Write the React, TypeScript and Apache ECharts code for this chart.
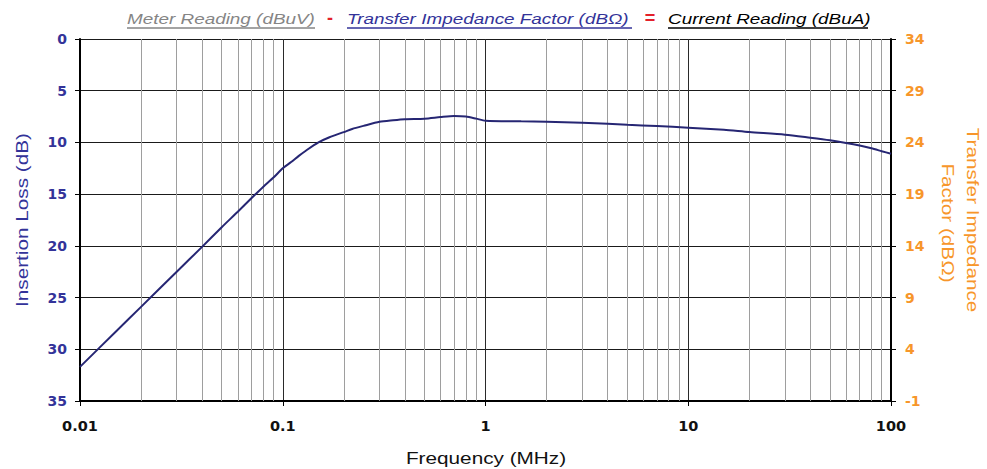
import React, { useEffect, useRef } from "react";
import * as echarts from "echarts";

// Frequency (MHz) and insertion loss (dB)
const FREQ = [
  0.01, 0.015, 0.02, 0.03, 0.04, 0.05, 0.06, 0.07, 0.08, 0.09, 0.1, 0.11, 0.12,
  0.13, 0.15, 0.17, 0.2, 0.22, 0.25, 0.3, 0.35, 0.4, 0.5, 0.6, 0.7, 0.8, 0.9, 1,
  1.5, 2, 3, 4, 5, 7, 10, 15, 20, 30, 40, 50, 60, 70, 80, 90, 100,
];
const LOSS = [
  31.7, 28.3, 25.9, 22.5, 20.1, 18.2, 16.7, 15.4, 14.3, 13.4, 12.5, 11.9, 11.3,
  10.8, 10.0, 9.5, 9.0, 8.7, 8.4, 8.0, 7.85, 7.75, 7.7, 7.55, 7.45, 7.5, 7.7,
  7.9, 7.96, 8.0, 8.1, 8.2, 8.3, 8.42, 8.57, 8.78, 9.0, 9.25, 9.55, 9.8, 10.05,
  10.3, 10.57, 10.85, 11.1,
];

// axis ranges
const X_MIN = 0.01;
const X_MAX = 100;
const LEFT_MIN = 0;
const LEFT_MAX = 35;
const TICK_STEP = 5;
const RIGHT_TOP = 34; // right-axis label at the top of the plot

const DECADES = [0.01, 0.1, 1, 10];
const MINOR_MULTS = [2, 3, 4, 5, 6, 7, 8, 9];

const NAVY = "#333399";
const ORANGE = "#F7962A";
const LINE = "#262673";
const RED = "#E3202A";

export default function App() {
  const ref = useRef<HTMLDivElement>(null);

  useEffect(() => {
    if (!ref.current) return;
    const chart = echarts.init(ref.current, undefined, { renderer: "svg" });

    const minor: number[] = [];
    DECADES.forEach((d) =>
      MINOR_MULTS.forEach((k) => minor.push(parseFloat((k * d).toPrecision(3))))
    );

    const SX = 1.22;
    const nameFont = "Liberation Sans, Arial, sans-serif";

    chart.setOption({
      animation: false,
      backgroundColor: "#ffffff",
      grid: { left: 80, right: 96, top: 39, bottom: 68, containLabel: false },
      xAxis: {
        type: "log",
        logBase: 10,
        min: X_MIN,
        max: X_MAX,
        axisLine: { show: true, onZero: false, lineStyle: { color: "#000", width: 2 } },
        axisTick: { show: true, inside: false, length: 5, lineStyle: { color: "#000" } },
        axisLabel: {
          margin: 17,
          color: "#111",
          fontFamily: "DejaVu Sans",
          fontWeight: "bold",
          fontSize: 14.5,
          formatter: (v: number) => String(parseFloat(Number(v).toPrecision(3))),
        },
        splitLine: { show: true, lineStyle: { color: "#2a2a2a", width: 1 } },
      },
      yAxis: [
        {
          type: "value",
          inverse: true,
          min: LEFT_MIN,
          max: LEFT_MAX,
          interval: TICK_STEP,
          position: "left",
          axisLine: { show: true, lineStyle: { color: "#000", width: 2 } },
          axisTick: { show: true, inside: false, length: 5, lineStyle: { color: "#000" } },
          axisLabel: {
            margin: 13,
            color: NAVY,
            fontFamily: "DejaVu Sans",
            fontWeight: "bold",
            fontSize: 14,
          },
          splitLine: { show: true, lineStyle: { color: "#1a1a1a", width: 1.2 } },
        },
        {
          type: "value",
          min: LEFT_MIN,
          max: LEFT_MAX,
          interval: TICK_STEP,
          position: "right",
          axisLine: { show: true, lineStyle: { color: "#000", width: 2 } },
          axisTick: { show: true, inside: false, length: 5, lineStyle: { color: "#000" } },
          axisLabel: {
            margin: 14,
            color: ORANGE,
            fontFamily: "DejaVu Sans",
            fontWeight: "bold",
            fontSize: 14,
            formatter: (v: number) => String(v - (LEFT_MAX - RIGHT_TOP)),
          },
          splitLine: { show: false },
        },
      ],
      series: [
        {
          type: "line",
          data: [],
          z: 1,
          silent: true,
          markLine: {
            silent: true,
            symbol: ["none", "none"],
            label: { show: false },
            emphasis: { disabled: true },
            lineStyle: { color: "#9E9E9E", width: 1, type: "solid" },
            data: minor.map((v) => ({ xAxis: v })),
          },
        },
        {
          type: "line",
          yAxisIndex: 0,
          z: 5,
          showSymbol: false,
          symbol: "none",
          smooth: 0.25,
          lineStyle: { color: LINE, width: 2 },
          data: FREQ.map((f, i) => [f, LOSS[i]]),
        },
      ],
      graphic: [
        // subtitle
        {
          type: "text", x: 127, y: 19, scaleX: 1.26,
          style: { text: "Meter Reading (dBuV)", fill: "#858585", font: `italic 15px ${nameFont}`, textAlign: "left", textVerticalAlign: "middle" },
        },
        { type: "line", shape: { x1: 127, y1: 28, x2: 315, y2: 28 }, style: { stroke: "#858585", lineWidth: 1.3 } },
        {
          type: "text", x: 330, y: 18,
          style: { text: "-", fill: RED, font: `bold 18px ${nameFont}`, textAlign: "center", textVerticalAlign: "middle" },
        },
        {
          type: "text", x: 347, y: 19, scaleX: 1.26,
          style: { text: "Transfer Impedance Factor (dBΩ)", fill: NAVY, font: `italic 15px ${nameFont}`, textAlign: "left", textVerticalAlign: "middle" },
        },
        { type: "line", shape: { x1: 347, y1: 28, x2: 632, y2: 28 }, style: { stroke: NAVY, lineWidth: 1.3 } },
        {
          type: "text", x: 650, y: 18,
          style: { text: "=", fill: RED, font: `bold 18px ${nameFont}`, textAlign: "center", textVerticalAlign: "middle" },
        },
        {
          type: "text", x: 668, y: 19, scaleX: 1.26,
          style: { text: "Current Reading (dBuA)", fill: "#000", font: `italic 15px ${nameFont}`, textAlign: "left", textVerticalAlign: "middle" },
        },
        { type: "line", shape: { x1: 668, y1: 28, x2: 868, y2: 28 }, style: { stroke: "#000", lineWidth: 1.3 } },
        // axis names
        {
          type: "text", x: 22, y: 220, rotation: Math.PI / 2, scaleX: SX,
          style: { text: "Insertion Loss (dB)", fill: NAVY, font: `17px ${nameFont}`, textAlign: "center", textVerticalAlign: "middle" },
        },
        {
          type: "text", x: 973, y: 220, rotation: -Math.PI / 2, scaleX: SX,
          style: { text: "Transfer Impedance", fill: ORANGE, font: `17px ${nameFont}`, textAlign: "center", textVerticalAlign: "middle" },
        },
        {
          type: "text", x: 948, y: 223, rotation: -Math.PI / 2, scaleX: SX,
          style: { text: "Factor (dBΩ)", fill: ORANGE, font: `17px ${nameFont}`, textAlign: "center", textVerticalAlign: "middle" },
        },
        {
          type: "text", x: 486, y: 458, scaleX: SX,
          style: { text: "Frequency (MHz)", fill: "#111", font: `17px ${nameFont}`, textAlign: "center", textVerticalAlign: "middle" },
        },
      ],
    });

    return () => chart.dispose();
  }, []);

  return (
    <div
      ref={ref}
      style={{ position: "fixed", left: 0, top: 0, width: 987, height: 469, background: "#fff" }}
    />
  );
}
